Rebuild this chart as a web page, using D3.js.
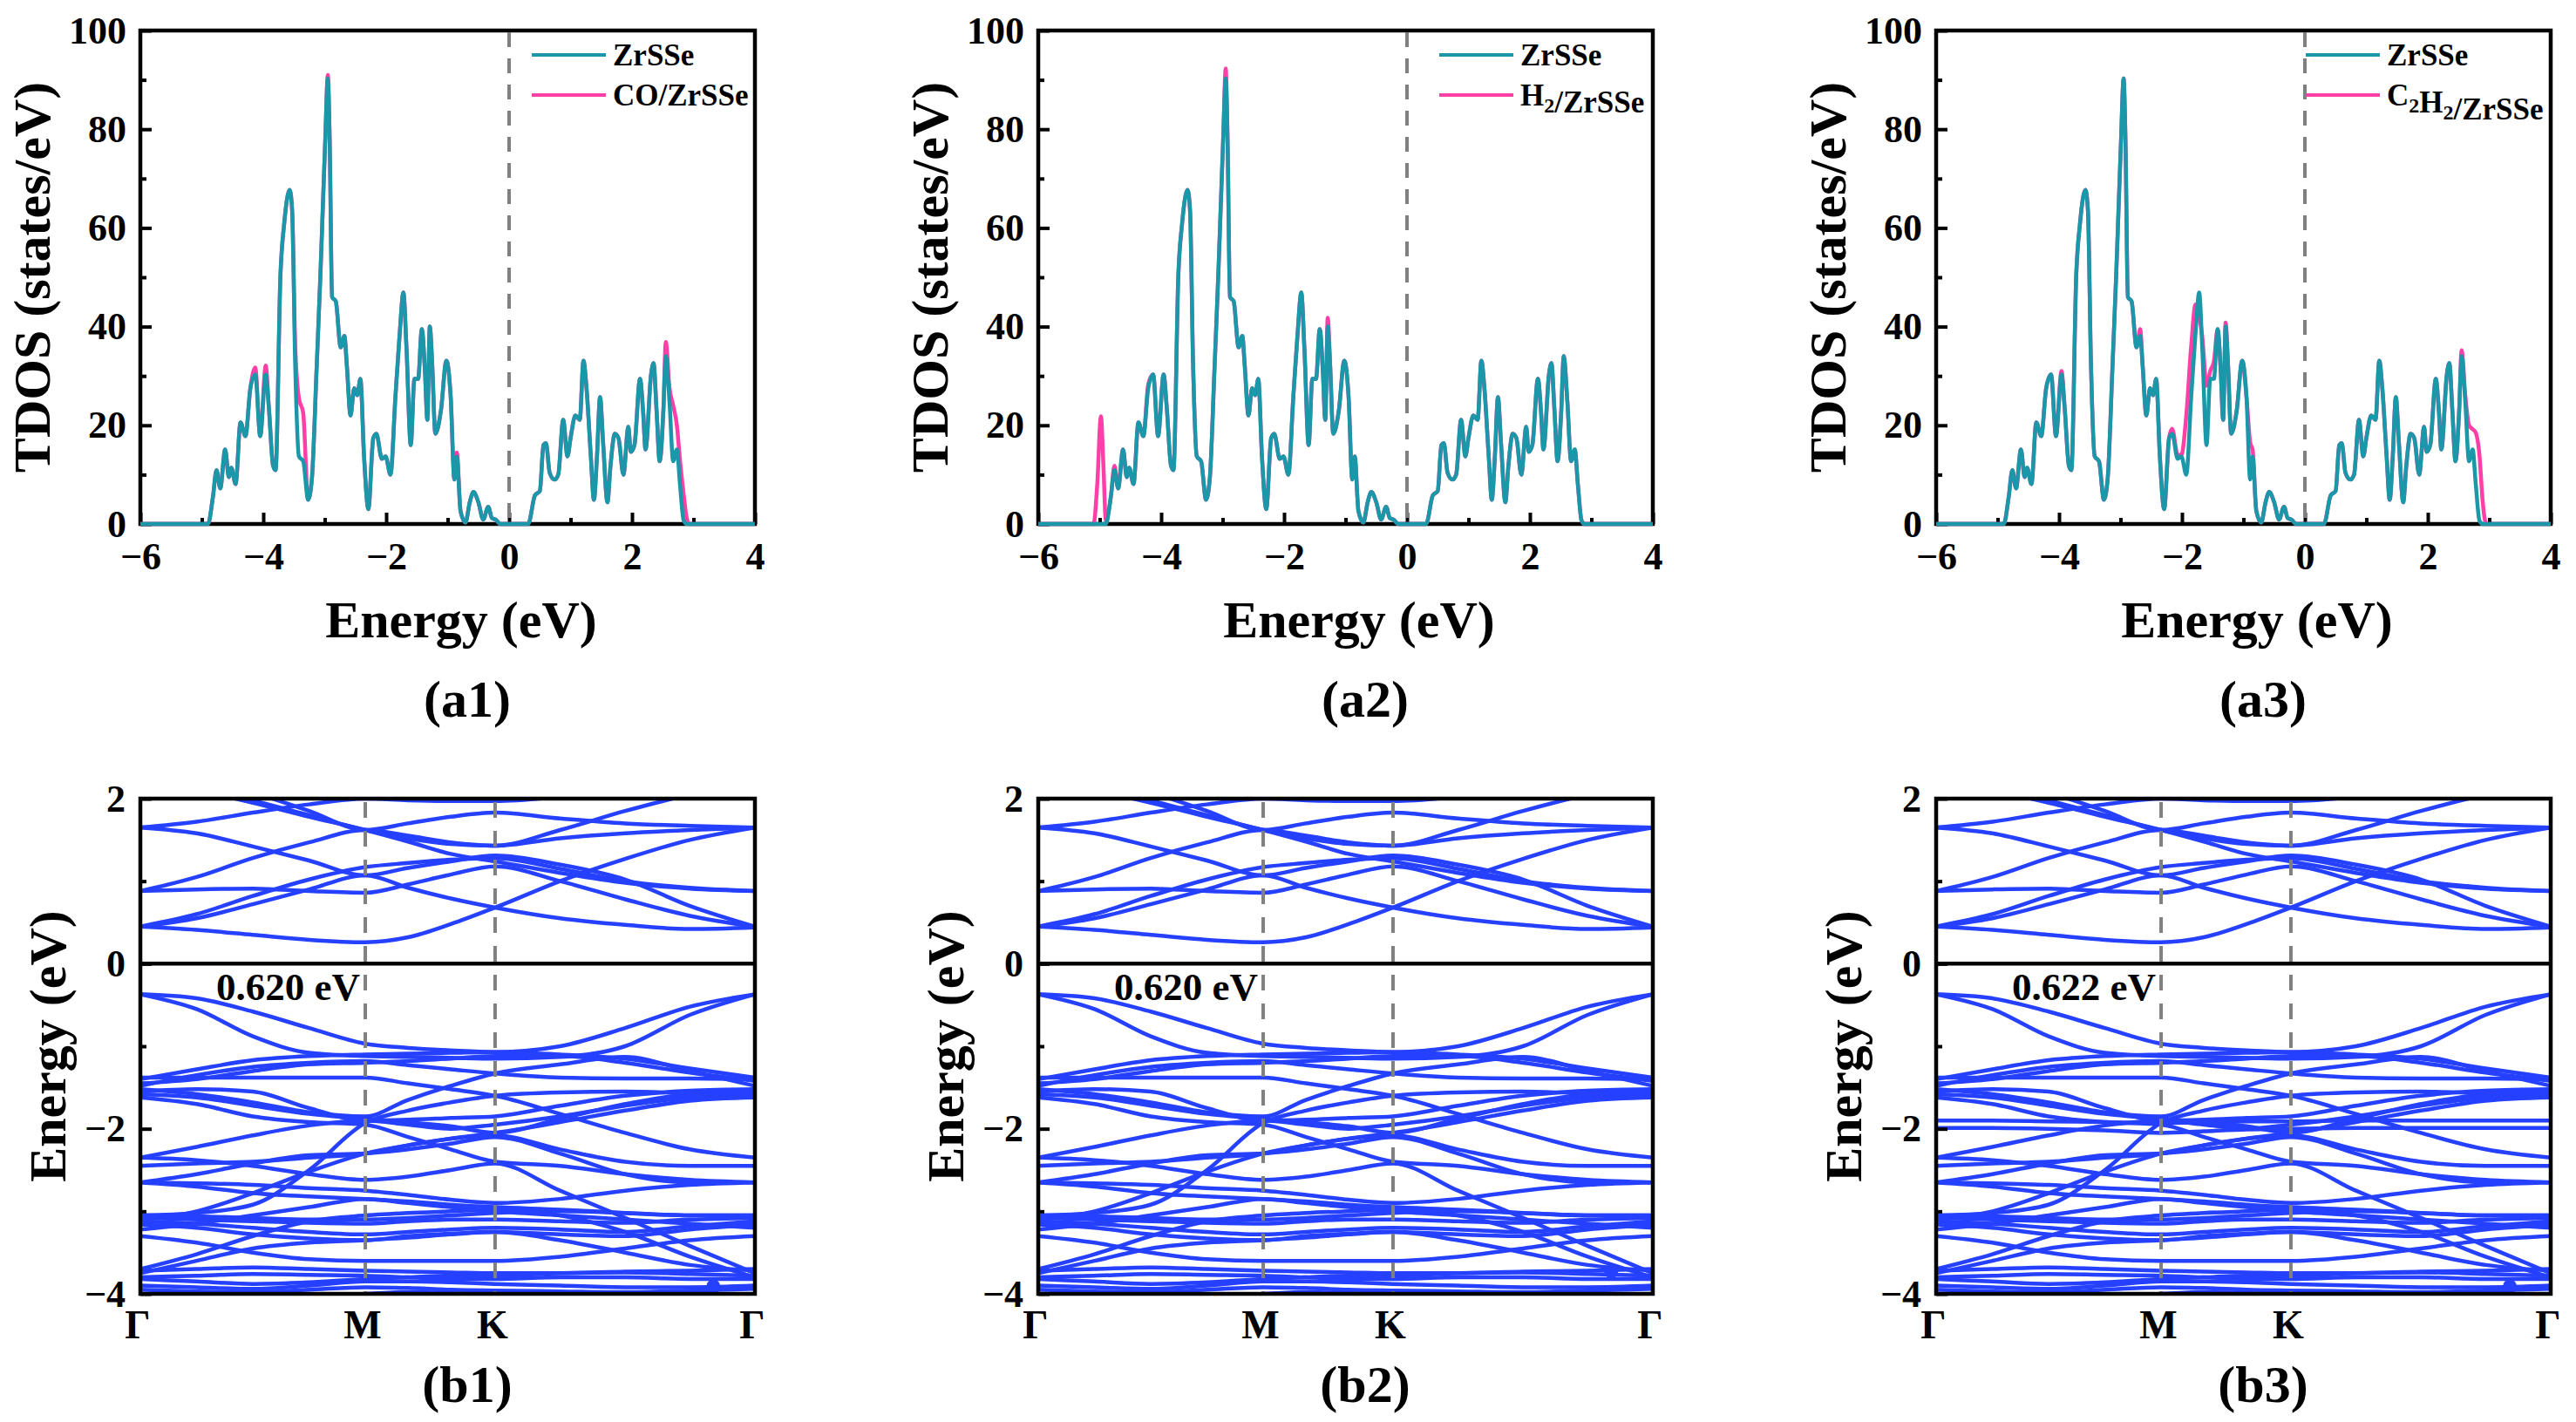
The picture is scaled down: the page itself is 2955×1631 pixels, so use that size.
<!DOCTYPE html>
<html>
<head>
<meta charset="utf-8">
<script src="https://cdn.jsdelivr.net/npm/d3@7"></script>
<style>
  body { margin: 0; background: #fff; }
</style>
</head>
<body>
<svg id="fig"></svg>
<script>
// ---- data ----
const energyTicks = [-6, -4, -2, 0, 2, 4];
const energyMinor = [-5, -3, -1, 1, 3];
const dosTicks = [0, 20, 40, 60, 80, 100];
const dosMinor = [10, 30, 50, 70, 90];
const panelTags = ["(a1)", "(a2)", "(a3)"];
const bandTags = ["(b1)", "(b2)", "(b3)"];
const legendNames = ["CO/ZrSSe", "H_2/ZrSSe", "C_2H_2/ZrSSe"];
const gapLabels = ["0.620 eV", "0.620 eV", "0.622 eV"];

// pristine ZrSSe TDOS  [energy eV, states/eV]
const pristineDos = [
  [-6,0],[-4.90,0],[-4.82,5.4],[-4.76,10.9],[-4.70,7.2],[-4.62,15.1],[-4.56,9.5],[-4.52,11.4],
  [-4.45,8.1],[-4.37,20.6],[-4.29,17.8],[-4.21,27.5],[-4.13,30.3],[-4.05,17.8],[-3.96,30.3],
  [-3.91,23.8],[-3.84,11.8],[-3.80,10.9],[-3.72,50.6],[-3.66,60.8],[-3.57,67.7],[-3.53,63.5],
  [-3.48,32.1],[-3.42,13.7],[-3.35,12.7],[-3.27,4.9],[-3.21,9.0],[-3.13,32.1],[-3.07,50.6],
  [-3.03,64.5],[-2.99,78.3],[-2.95,90.3],[-2.92,78.3],[-2.88,46.0],[-2.82,45.1],[-2.74,35.8],
  [-2.68,38.1],[-2.64,32.1],[-2.58,22.0],[-2.52,27.5],[-2.47,26.1],[-2.42,29.4],[-2.36,13.7],
  [-2.29,3.0],[-2.21,17.4],[-2.16,18.3],[-2.07,13.2],[-2.01,13.7],[-1.93,10.0],[-1.85,25.7],
  [-1.78,38.6],[-1.72,46.9],[-1.67,35.8],[-1.60,16.0],[-1.54,29.4],[-1.48,29.4],[-1.42,39.5],
  [-1.37,31.2],[-1.33,21.1],[-1.29,40.0],[-1.25,32.1],[-1.20,18.3],[-1.11,22.9],[-1.02,33.1],
  [-0.95,25.7],[-0.89,9.0],[-0.85,13.7],[-0.79,2.6],[-0.71,0.3],[-0.64,4.4],[-0.58,6.5],
  [-0.50,4.4],[-0.42,0.9],[-0.34,3.5],[-0.28,1.2],[-0.22,0.9],[-0.14,0],
  [0.31,0],[0.42,5.8],[0.50,6.7],[0.56,16.0],[0.60,16.4],[0.66,10.4],[0.74,9.0],[0.80,10.0],
  [0.88,21.1],[0.95,13.7],[1.00,17.4],[1.08,22.0],[1.15,21.1],[1.21,33.1],[1.26,27.5],
  [1.33,13.7],[1.38,4.9],[1.43,13.7],[1.48,25.7],[1.53,16.4],[1.60,4.4],[1.65,11.8],
  [1.72,18.3],[1.78,17.4],[1.86,10.0],[1.94,19.7],[1.98,14.6],[2.04,16.0],[2.13,29.4],
  [2.18,22.9],[2.22,15.1],[2.31,30.3],[2.35,32.6],[2.40,22.9],[2.45,12.7],[2.51,22.9],
  [2.55,34.0],[2.61,24.7],[2.67,12.7],[2.73,15.1],[2.78,8.1],[2.84,0.7],[2.89,0],[4,0]
];

// points where the adsorbed system differs from pristine
const coDos = [
  [-4.13,31.7],[-3.96,32.1],[-3.48,36.0],[-3.42,25.5],[-3.35,22.5],[-2.95,91.0],[-0.85,14.5],
  [2.55,36.9],[2.61,27.5],[2.67,24.0],[2.73,20.0],[2.78,13.0],[2.84,6.0],[2.89,1.2],[2.93,0]
];
const h2Dos = [
  [-5.10,0],[-5.04,8.0],[-4.98,21.8],[-4.94,12.0],[-4.90,0.7],[-4.76,11.8],[-4.21,28.3],
  [-2.95,92.3],[-1.29,41.8]
];
const c2h2Dos = [
  [-3.96,31.0],[-2.68,39.5],[-2.16,19.3],[-2.07,14.0],[-2.01,14.0],[-1.93,22.0],[-1.85,36.0],
  [-1.78,44.5],[-1.72,42.0],[-1.67,38.0],[-1.60,28.0],[-1.54,31.0],[-1.48,33.0],[-1.29,40.8],
  [-0.89,16.5],[-0.85,15.0],[2.55,35.2],[2.61,26.0],[2.67,20.0],[2.73,19.2],[2.78,18.5],
  [2.84,14.0],[2.89,5.0],[2.93,0.8],[2.96,0]
];
const adsorbedDos = [coDos, h2Dos, c2h2Dos];

// band structure: k path Γ-M-K-Γ (|ΓM| = 1)
const kNodes = [0, 0.25, 0.5, 0.75, 1, 1.19, 1.38, 1.577, 1.866, 2.155, 2.443, 2.732];
const kTickPos = [0, 1, 1.577, 2.732];
const kLabels = ["Γ", "M", "K", "Γ"];
const bandTicks = [-4, -2, 0, 2];
const bandMinor = [-3, -1, 1];

const cbBands = [
  [0.45,0.41,0.35,0.29,0.26,0.32,0.48,0.68,1.00,1.27,1.50,1.65],
  [0.45,0.55,0.72,0.90,1.07,0.92,0.79,0.68,0.55,0.47,0.42,0.44],
  [0.45,0.60,0.82,1.02,1.17,1.22,1.26,1.28,1.15,1.00,0.92,0.88],
  [0.88,0.90,0.91,0.88,0.86,0.96,1.08,1.18,1.00,0.78,0.58,0.45],
  [0.88,1.05,1.28,1.47,1.62,1.55,1.47,1.43,1.52,1.58,1.62,1.65],
  [1.65,1.58,1.42,1.25,1.07,1.16,1.24,1.31,1.20,1.02,0.70,0.45],
  [1.65,1.72,1.83,1.93,2.00,1.98,1.97,1.97,2.02,2.10,2.20,2.30],
  [2.35,2.18,1.98,1.80,1.62,1.52,1.45,1.43,1.62,1.85,2.05,2.20],
  [2.50,2.30,2.08,1.85,1.62,1.70,1.78,1.83,1.76,1.70,1.67,1.65],
  [2.20,2.10,1.95,1.78,1.62,1.48,1.33,1.24,1.10,0.98,0.91,0.88]
];
const vbBands = [
  [-0.37,-0.42,-0.58,-0.78,-0.97,-1.02,-1.05,-1.07,-1.00,-0.78,-0.52,-0.37],
  [-0.37,-0.55,-0.88,-1.08,-1.12,-1.13,-1.14,-1.15,-1.13,-1.00,-0.62,-0.37],
  [-1.40,-1.28,-1.17,-1.12,-1.10,-1.09,-1.08,-1.07,-1.10,-1.15,-1.27,-1.38],
  [-1.48,-1.35,-1.25,-1.20,-1.18,-1.23,-1.28,-1.33,-1.38,-1.39,-1.39,-1.40],
  [-1.45,-1.40,-1.30,-1.22,-1.20,-1.18,-1.15,-1.12,-1.12,-1.20,-1.32,-1.42],
  [-1.38,-1.38,-1.38,-1.38,-1.38,-1.45,-1.52,-1.60,-1.82,-2.05,-2.25,-2.35],
  [-1.52,-1.58,-1.68,-1.80,-1.85,-1.65,-1.48,-1.33,-1.22,-1.13,-1.30,-1.48],
  [-1.55,-1.52,-1.55,-1.75,-1.90,-1.89,-1.87,-1.85,-1.72,-1.60,-1.54,-1.52],
  [-1.58,-1.62,-1.72,-1.82,-1.88,-1.92,-1.97,-2.05,-1.88,-1.70,-1.58,-1.55],
  [-1.62,-1.70,-1.85,-1.92,-1.95,-2.10,-2.25,-2.40,-2.45,-2.55,-2.62,-2.65],
  [-2.35,-2.22,-2.08,-1.96,-1.90,-1.95,-2.00,-1.95,-1.85,-1.72,-1.62,-1.58],
  [-2.45,-2.42,-2.40,-2.35,-2.30,-2.20,-2.12,-2.08,-2.25,-2.40,-2.45,-2.45],
  [-2.65,-2.66,-2.68,-2.72,-2.75,-2.80,-2.86,-2.90,-2.85,-2.75,-2.68,-2.65],
  [-3.05,-3.02,-2.92,-2.50,-1.93,-1.78,-1.68,-1.60,-1.56,-1.55,-1.57,-1.58],
  [-3.10,-3.00,-2.78,-2.52,-2.30,-2.20,-2.12,-2.05,-1.92,-1.78,-1.66,-1.62],
  [-3.08,-3.10,-3.12,-3.14,-3.15,-3.12,-3.10,-3.10,-3.12,-3.14,-3.10,-3.08],
  [-3.12,-3.15,-3.20,-3.25,-3.28,-3.25,-3.22,-3.20,-3.22,-3.25,-3.18,-3.12],
  [-3.16,-3.20,-3.28,-3.33,-3.35,-3.30,-3.27,-3.25,-3.28,-3.30,-3.22,-3.16],
  [-3.22,-3.15,-3.05,-2.95,-2.85,-2.90,-2.95,-3.00,-3.05,-3.10,-3.15,-3.20],
  [-3.30,-3.38,-3.50,-3.58,-3.60,-3.60,-3.60,-3.60,-3.55,-3.45,-3.35,-3.30],
  [-3.70,-3.52,-3.30,-3.12,-3.05,-3.02,-3.00,-2.98,-3.05,-3.25,-3.55,-3.80],
  [-3.72,-3.70,-3.68,-3.70,-3.72,-3.73,-3.74,-3.75,-3.75,-3.73,-3.72,-3.70],
  [-3.80,-3.78,-3.76,-3.77,-3.78,-3.80,-3.82,-3.82,-3.80,-3.80,-3.82,-3.82],
  [-3.90,-3.92,-3.94,-3.90,-3.85,-3.85,-3.86,-3.88,-3.90,-3.92,-3.92,-3.90],
  [-3.95,-3.97,-3.98,-3.95,-3.92,-3.93,-3.95,-3.96,-3.97,-3.98,-3.96,-3.94],
  [-4.30,-4.20,-4.10,-4.03,-4.00,-3.98,-3.99,-4.02,-4.10,-4.20,-4.30,-4.30],
  [-2.65,-2.70,-2.78,-2.82,-2.85,-2.88,-2.92,-2.95,-2.98,-3.02,-3.05,-3.05],
  [-2.35,-2.38,-2.45,-2.55,-2.62,-2.58,-2.50,-2.42,-2.75,-3.08,-3.42,-3.75],
  [-2.65,-2.55,-2.42,-2.32,-2.30,-2.25,-2.18,-2.10,-2.30,-2.55,-2.65,-2.65],
  [-3.05,-3.06,-3.08,-3.10,-3.10,-3.08,-3.05,-3.02,-3.00,-3.02,-3.05,-3.05],
  [-3.75,-3.60,-3.45,-3.38,-3.35,-3.32,-3.28,-3.25,-3.35,-3.50,-3.65,-3.72],
  [-3.82,-3.85,-3.88,-3.86,-3.82,-3.80,-3.78,-3.78,-3.75,-3.74,-3.76,-3.78]
];
// extra flat molecular levels in C2H2/ZrSSe
const c2h2Bands = [
  [-1.90,-1.90,-1.91,-1.92,-1.93,-1.92,-1.91,-1.91,-1.90,-1.90,-1.90,-1.90],
  [-1.99,-1.99,-2.00,-2.02,-2.05,-2.03,-2.01,-2.00,-1.99,-1.99,-1.99,-1.99]
];
const extraBands = [[], [], c2h2Bands];
const markerPts = [[2.547, -3.91], [2.547, -3.73], [2.55, -3.91]];

// ---- layout / style ----
const W = 2955, H = 1631;
const FONT = '"Liberation Serif", "Times New Roman", serif';
const panelLeft = [161, 1191, 2221];
const panelW = 705;
const dosTop = 35, dosH = 566;
const bandTop = 916, bandH = 568;
const legendX = [449, 460, 424];
const TEAL = "#1a97a8", PINK = "#ff3fa8", BLUE = "#2540ff", GREY = "#808080";
const fmt = d3.format("d");

const svg = d3.select("#fig").attr("width", W).attr("height", H)
  .attr("font-family", FONT).attr("font-weight", "bold");

function withChanges(base, changes) {
  const m = new Map(base.map(p => [p[0], p[1]]));
  changes.forEach(p => m.set(p[0], p[1]));
  return Array.from(m, ([e, v]) => [e, v]).sort((a, b) => a[0] - b[0]);
}

function styleAxis(sel, size) {
  sel.attr("font-family", FONT).attr("font-size", size).attr("font-weight", "bold");
  sel.select(".domain").remove();
  sel.selectAll(".tick line").attr("stroke", "#000").attr("stroke-width", 4);
  sel.selectAll(".tick text").attr("fill", "#000");
}

function addLabel(sel, str, x, y, size, subSize) {
  const t = sel.append("text").attr("x", x).attr("y", y).attr("font-size", size);
  const parts = str.split(/(_\d)/).filter(s => s.length);
  parts.forEach(p => {
    if (p[0] === "_") {
      t.append("tspan").attr("font-size", subSize).attr("dy", 8).text(p.slice(1));
      t.append("tspan").attr("dy", -8).text("");
    } else {
      t.append("tspan").text(p);
    }
  });
  return t;
}

function drawDos(i) {
  const g = svg.append("g").attr("transform", `translate(${panelLeft[i]},${dosTop})`);
  const x = d3.scaleLinear().domain([-6, 4]).range([0, panelW]);
  const y = d3.scaleLinear().domain([0, 100]).range([dosH, 0]);

  g.append("g").attr("transform", `translate(0,${dosH})`)
    .call(d3.axisBottom(x).tickValues(energyMinor).tickSize(-7).tickFormat(""))
    .call(styleAxis, 44);
  g.append("g").attr("transform", `translate(0,${dosH})`)
    .call(d3.axisBottom(x).tickValues(energyTicks).tickSize(-13).tickPadding(21).tickFormat(fmt))
    .call(styleAxis, 44);
  g.append("g")
    .call(d3.axisLeft(y).tickValues(dosMinor).tickSize(-7).tickFormat(""))
    .call(styleAxis, 44);
  g.append("g")
    .call(d3.axisLeft(y).tickValues(dosTicks).tickSize(-13).tickPadding(16).tickFormat(fmt))
    .call(styleAxis, 44);

  g.append("rect").attr("width", panelW).attr("height", dosH)
    .attr("fill", "none").attr("stroke", "#000").attr("stroke-width", 4.5);

  g.append("line").attr("x1", x(0)).attr("x2", x(0)).attr("y1", 2).attr("y2", dosH)
    .attr("stroke", GREY).attr("stroke-width", 4).attr("stroke-dasharray", "17,13");

  const line = d3.line().x(d => x(d[0])).y(d => y(d[1])).curve(d3.curveMonotoneX);
  g.append("path").datum(withChanges(pristineDos, adsorbedDos[i])).attr("d", line)
    .attr("fill", "none").attr("stroke", PINK).attr("stroke-width", 4.5).attr("stroke-linejoin", "round");
  g.append("path").datum(pristineDos).attr("d", line)
    .attr("fill", "none").attr("stroke", TEAL).attr("stroke-width", 4.5).attr("stroke-linejoin", "round");

  // legend
  const lx = legendX[i];
  [[TEAL, "ZrSSe", 28, 40], [PINK, legendNames[i], 74, 86]].forEach(([c, name, ly, ty]) => {
    g.append("line").attr("x1", lx).attr("x2", lx + 85).attr("y1", ly).attr("y2", ly)
      .attr("stroke", c).attr("stroke-width", 4);
    addLabel(g, name, lx + 93, ty, 35, 24);
  });

  g.append("text").attr("transform", `translate(-104,${dosH / 2}) rotate(-90)`)
    .attr("text-anchor", "middle").attr("font-size", 60).text("TDOS (states/eV)");
  g.append("text").attr("x", 368).attr("y", 696).attr("text-anchor", "middle")
    .attr("font-size", 60).text("Energy (eV)");
  g.append("text").attr("x", 375).attr("y", 787).attr("text-anchor", "middle")
    .attr("font-size", 60).text(panelTags[i]);
}

function drawBands(i) {
  const g = svg.append("g").attr("transform", `translate(${panelLeft[i]},${bandTop})`);
  const x = d3.scaleLinear().domain([0, 2.732]).range([0, panelW]);
  const y = d3.scaleLinear().domain([-4, 2]).range([bandH, 0]);

  g.append("clipPath").attr("id", "clip" + i)
    .append("rect").attr("width", panelW).attr("height", bandH);

  const line = d3.line().x((d, j) => x(kNodes[j])).y(d => y(d)).curve(d3.curveMonotoneX);
  const bands = cbBands.concat(vbBands, extraBands[i]);
  g.append("g").attr("clip-path", `url(#clip${i})`)
    .selectAll("path").data(bands).join("path")
    .attr("d", line).attr("fill", "none").attr("stroke", BLUE).attr("stroke-width", 4.5);

  g.append("circle").attr("cx", x(markerPts[i][0])).attr("cy", y(markerPts[i][1]))
    .attr("r", 8).attr("fill", BLUE);

  [kTickPos[1], kTickPos[2]].forEach(k => {
    g.append("line").attr("x1", x(k)).attr("x2", x(k)).attr("y1", 4).attr("y2", bandH)
      .attr("stroke", GREY).attr("stroke-width", 4).attr("stroke-dasharray", "18,15");
  });

  g.append("line").attr("x1", 0).attr("x2", panelW).attr("y1", y(0)).attr("y2", y(0))
    .attr("stroke", "#000").attr("stroke-width", 4.5);

  g.append("g")
    .call(d3.axisLeft(y).tickValues(bandMinor).tickSize(-7).tickFormat(""))
    .call(styleAxis, 44);
  g.append("g")
    .call(d3.axisLeft(y).tickValues(bandTicks).tickSize(-13).tickPadding(17).tickFormat(fmt))
    .call(styleAxis, 44);

  g.append("rect").attr("width", panelW).attr("height", bandH)
    .attr("fill", "none").attr("stroke", "#000").attr("stroke-width", 4.5);

  kTickPos.forEach((k, j) => {
    g.append("text").attr("x", x(k) - 3).attr("y", 619).attr("text-anchor", "middle")
      .attr("font-size", 46).text(kLabels[j]);
  });

  g.append("text").attr("x", 87).attr("y", 231).attr("font-size", 45).text(gapLabels[i]);

  g.append("text").attr("transform", `translate(-86,${bandH / 2}) rotate(-90)`)
    .attr("text-anchor", "middle").attr("font-size", 60).text("Energy (eV)");
  g.append("text").attr("x", 375).attr("y", 692).attr("text-anchor", "middle")
    .attr("font-size", 60).text(bandTags[i]);
}

[0, 1, 2].forEach(i => { drawDos(i); drawBands(i); });
</script>
</body>
</html>
